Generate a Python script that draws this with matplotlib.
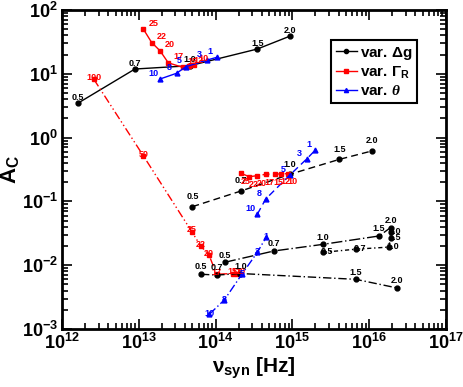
from matplotlib import pyplot as plt
import numpy as np

plt.rcParams['font.family'] = ['Liberation Sans', 'DejaVu Sans']
plt.rcParams['font.weight'] = 'bold'
plt.rcParams['mathtext.fontset'] = 'custom'
plt.rcParams['mathtext.rm'] = 'Liberation Sans:bold'
plt.rcParams['mathtext.bf'] = 'Liberation Sans:bold'
plt.rcParams['mathtext.it'] = 'Liberation Serif:italic'
plt.rcParams['mathtext.default'] = 'bf'

# ---- top group (solid) ----
dg1_lab = ['0.5', '0.7', '1.0', '1.5', '2.0']
dg1_x = [1.6e12, 8.9e12, 4.6e13, 3.5e14, 9.3e14]
dg1_y = [3.45, 11.9, 13.4, 24.5, 39.0]

gr1_lab = ['25', '22', '20', '17', '15', '12', '10']
gr1_x = [1.15e13, 1.47e13, 1.89e13, 2.42e13, 3.77e13, 4.5e13, 5.2e13]
gr1_y = [50.0, 31.0, 23.0, 14.9, 12.6, 13.2, 14.0]

th1_lab = ['10', '8', '5', '3', '1']
th1_x = [1.89e13, 3.1e13, 4.1e13, 7.65e13, 1.03e14]
th1_y = [8.3, 10.2, 12.9, 16.4, 18.1]

# ---- middle group (dashed) ----
dg2_lab = ['0.5', '0.7', '1.0', '1.5', '2.0']
dg2_x = [4.98e13, 2.16e14, 9.3e14, 4.1e15, 1.1e16]
dg2_y = [0.0826, 0.146, 0.266, 0.456, 0.62]

gr2_lab = ['25', '22', '20', '17', '15', '12', '10']
gr2_x = [2.15e14, 2.75e14, 3.5e14, 4.5e14, 5.9e14, 7.2e14, 8.8e14]
gr2_y = [0.275, 0.244, 0.253, 0.266, 0.268, 0.27, 0.272]

th2_lab = ['10', '8', '5', '3', '1']
th2_x = [3.5e14, 4.5e14, 9.3e14, 1.53e15, 2.0e15]
th2_y = [0.063, 0.109, 0.26, 0.46, 0.64]

# ---- bottom group (dash-dot) ----
gr3_lab = ['100', '50', '25', '22', '20', '17', '15', '12', '10']
gr3_x = [2.6e12, 1.15e13, 4.9e13, 6.4e13, 8.2e13, 1.03e14, 1.67e14, 1.88e14, 2.08e14]
gr3_y = [8.2, 0.515, 0.0335, 0.020, 0.0145, 0.0072, 0.0074, 0.0074, 0.0074]

dg3_lab = ['0.5', '0.7', '1.0', '1.5', '2.0']
dg3_x = [6.46e13, 1.05e14, 2.1e14, 6.7e15, 2.3e16]
dg3_y = [0.0072, 0.0070, 0.0074, 0.0060, 0.0044]

dg4_lab = ['0.5', '0.7', '1.0', '1.5', '2.0']
dg4_x = [1.32e14, 5.76e14, 2.5e15, 1.35e16, 1.9e16]
dg4_y = [0.0111, 0.0167, 0.0212, 0.0287, 0.0387]

dg5_lab = ['0.5', '0.7', '1.0', '1.5', '2.0']
dg5_x = [2.5e15, 6.7e15, 1.8e16, 1.9e16, 1.9e16]
dg5_y = [0.0159, 0.0178, 0.0192, 0.0265, 0.033]

th3_lab = ['10', '8', '5', '3', '1']
th3_x = [8.3e13, 1.3e14, 2.2e14, 3.5e14, 4.6e14]
th3_y = [0.0017, 0.00285, 0.0072, 0.0159, 0.028]

red = '#ff0000'
blue = '#0000ff'

fig = plt.figure(figsize=(4.63, 3.87), dpi=100)
ax = fig.add_axes([0.134, 0.150, 0.829, 0.824])


def series(x, y, lab, color, marker, ls, off, ms=3.5, lw=1.0):
    ax.plot(x, y, color=color, marker=marker, ms=ms, lw=lw, linestyle=ls)
    for xi, yi, t in zip(x, y, lab):
        ax.annotate(t, (xi, yi), xytext=off, textcoords='offset points',
                    fontsize=6.5, color=color, ha='center', va='bottom')


series(dg1_x, dg1_y, dg1_lab, 'k', 'o', '-', (0, 1))
series(gr1_x, gr1_y, gr1_lab, red, 's', '-', (7, 1))
series(th1_x, th1_y, th1_lab, blue, '^', '-', (-5, 1))

series(dg2_x, dg2_y, dg2_lab, 'k', 'o', (0, (5, 3)), (0, 4))
series(gr2_x, gr2_y, gr2_lab, red, 's', (0, (5, 3)), (3, -9))
series(th2_x, th2_y, th2_lab, blue, '^', (0, (5, 3)), (-5, 1))

series(gr3_x, gr3_y, gr3_lab, red, 's', (0, (6, 2, 1, 2, 1, 2)), (0, -2))
series(dg3_x, dg3_y, dg3_lab, 'k', 'o', (0, (6, 2, 1, 2)), (0, 2))
series(dg4_x, dg4_y, dg4_lab, 'k', 'o', (0, (8, 2, 1, 2)), (0, 2))
series(dg5_x, dg5_y, dg5_lab, 'k', 'o', (0, (3, 2, 1, 2)), (3, -3))
series(th3_x, th3_y, th3_lab, blue, '^', (0, (6, 2, 1, 2)), (0, -3))

ax.set_xscale('log')
ax.set_yscale('log')
ax.set_xlim(1e12, 1e17)
ax.set_ylim(1e-3, 1e2)

ax.tick_params(which='both', direction='in', top=True, right=True, width=1.2)
ax.tick_params(which='major', length=7, labelsize=13, pad=3)
ax.tick_params(which='minor', length=4)
for s in ax.spines.values():
    s.set_linewidth(2)

ax.set_xlabel(r'$\nu_{syn}$ [Hz]', fontsize=15, fontweight='bold', labelpad=2)
ax.set_ylabel(r'$A_C$', fontsize=16, fontweight='bold')
ax.yaxis.set_label_coords(-0.105, 0.5)

h1, = ax.plot([], [], color='k', marker='o', ms=3, lw=1)
h2, = ax.plot([], [], color=red, marker='s', ms=3, lw=1)
h3, = ax.plot([], [], color=blue, marker='^', ms=3, lw=1)
leg = ax.legend([h1, h2, h3], [r'var. $\mathit{\Delta}$g', r'var. $\Gamma_R$', r'var. $\mathit{\theta}$'],
                loc='upper right', bbox_to_anchor=(0.945, 0.93), fontsize=11,
                fancybox=False, handlelength=1.4, handletextpad=0.2,
                borderpad=0.3, labelspacing=0.2, framealpha=1)
leg.get_frame().set_edgecolor('k')
leg.get_frame().set_linewidth(1.5)

plt.savefig('out.png', dpi=100)
